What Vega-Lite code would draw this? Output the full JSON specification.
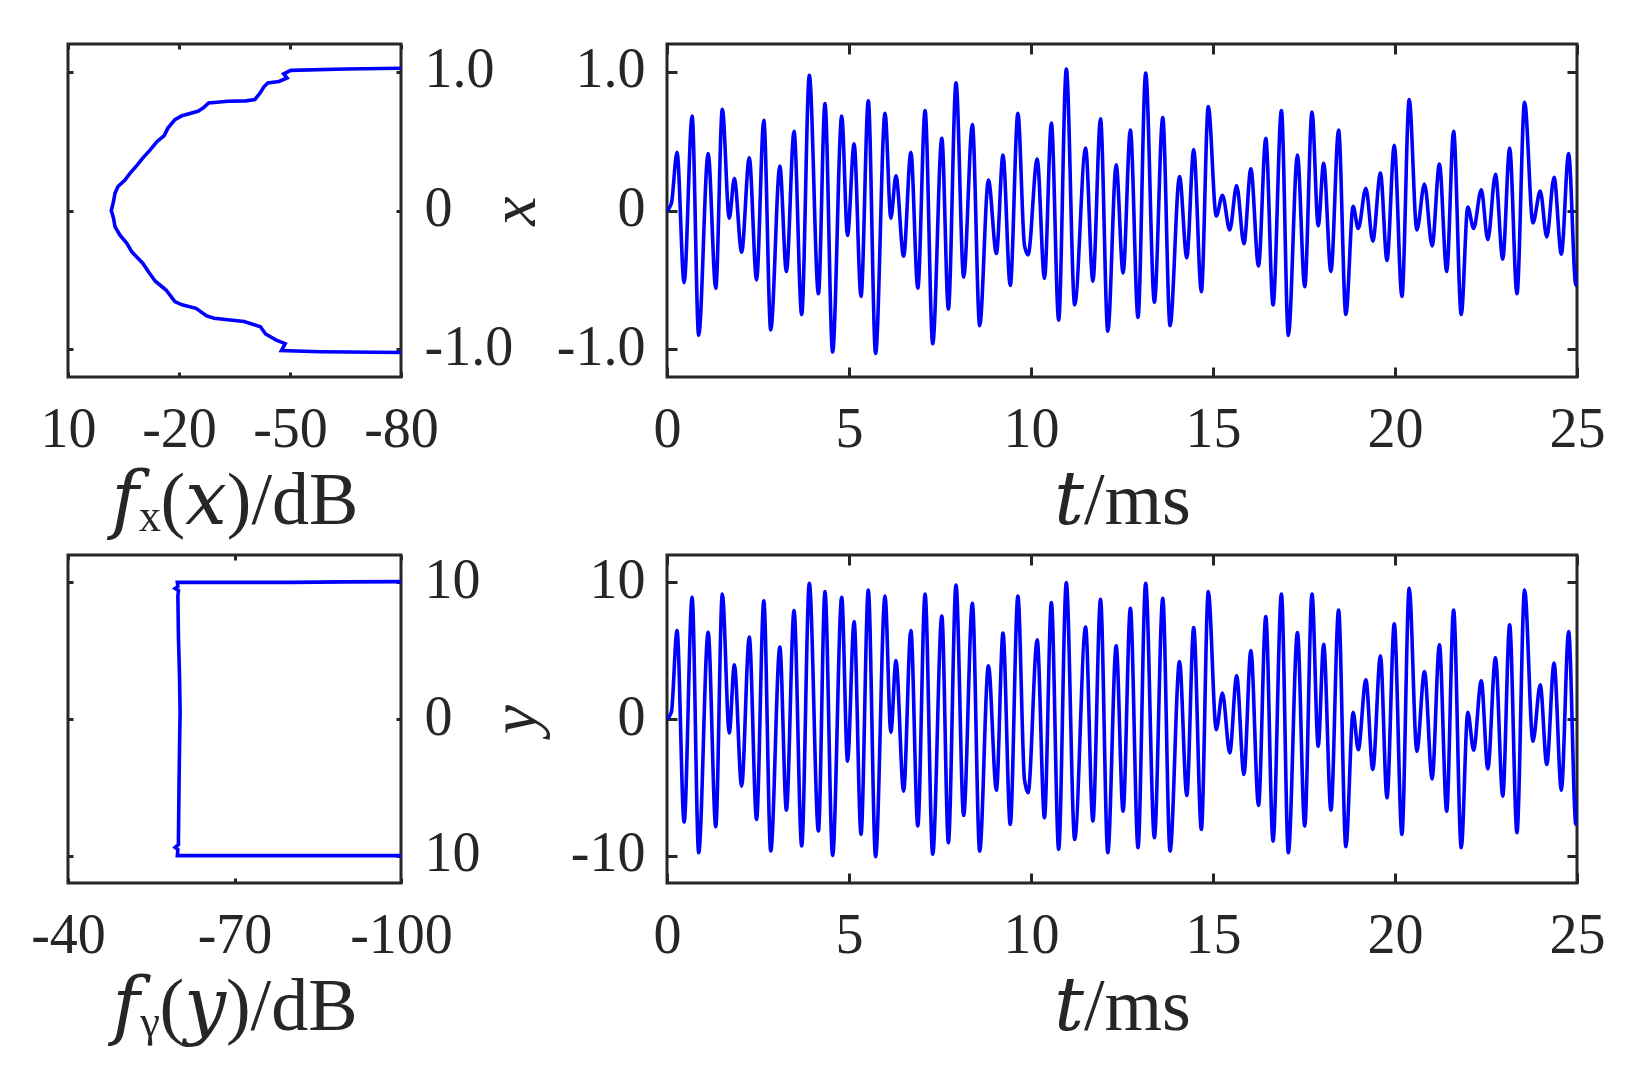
{
  "$schema": "https://vega.github.io/schema/vega-lite/v6.json",
  "background": "white",
  "padding": {"left": 29, "top": 40, "right": 5, "bottom": 5},
  "config": {
    "view": {"stroke": "#262626", "strokeWidth": 3},
    "axis": {
      "grid": false, "domain": false,
      "tickColor": "#262626", "tickWidth": 3,
      "labelColor": "#262626", "labelFont": "Liberation Serif", "labelFontSize": 56,
      "titleColor": "#262626", "titleFont": "Liberation Serif, DejaVu Serif", "titleFontSize": 74, "titleFontWeight": "normal",
      "labelFlush": false, "labelOverlap": false
    },
    "line": {"color": "#0000ff", "strokeWidth": 3.6}
  },
  "columns": 2,
  "spacing": {"row": 178, "column": 266},
  "bounds": "flush",
  "datasets": {
    "ts": [
      {"t":0,"x":0,"y":0},{"t":0.12,"x":0.05,"y":0.5},{"t":0.275,"x":0.42,"y":6.47},{"t":0.47,"x":-0.52,"y":-7.54},
      {"t":0.69,"x":0.68,"y":8.9},{"t":0.87,"x":-0.9,"y":-9.78},{"t":1.13,"x":0.41,"y":6.35},{"t":1.34,"x":-0.56,"y":-7.88},
      {"t":1.52,"x":0.73,"y":9.15},{"t":1.71,"x":-0.055,"y":-1.02},{"t":1.85,"x":0.23,"y":3.97},{"t":2.05,"x":-0.3,"y":-4.91},
      {"t":2.26,"x":0.38,"y":5.99},{"t":2.46,"x":-0.5,"y":-7.35},{"t":2.66,"x":0.65,"y":8.64},{"t":2.85,"x":-0.86,"y":-9.66},
      {"t":3.1,"x":0.32,"y":5.26},{"t":3.28,"x":-0.44,"y":-6.67},{"t":3.49,"x":0.57,"y":7.93},{"t":3.7,"x":-0.75,"y":-9.29},
      {"t":3.91,"x":0.975,"y":9.93},{"t":4.16,"x":-0.6,"y":-8.2},{"t":4.34,"x":0.77,"y":9.32},{"t":4.55,"x":-1.02,"y":-9.98},
      {"t":4.8,"x":0.68,"y":8.9},{"t":4.96,"x":-0.18,"y":-3.09},{"t":5.14,"x":0.48,"y":7.13},{"t":5.33,"x":-0.62,"y":-8.44},
      {"t":5.53,"x":0.79,"y":9.44},{"t":5.73,"x":-1.03,"y":-10.07},{"t":5.99,"x":0.7,"y":9.0},{"t":6.15,"x":-0.055,"y":-0.97},
      {"t":6.29,"x":0.25,"y":4.28},{"t":6.5,"x":-0.33,"y":-5.28},{"t":6.7,"x":0.42,"y":6.47},{"t":6.89,"x":-0.56,"y":-7.83},
      {"t":7.09,"x":0.72,"y":9.15},{"t":7.3,"x":-0.96,"y":-9.9},{"t":7.55,"x":0.52,"y":7.54},{"t":7.73,"x":-0.71,"y":-9.05},
      {"t":7.94,"x":0.92,"y":9.8},{"t":8.15,"x":-0.48,"y":-7.06},{"t":8.39,"x":0.62,"y":8.47},{"t":8.59,"x":-0.83,"y":-9.66},
      {"t":8.83,"x":0.22,"y":3.89},{"t":9.05,"x":-0.31,"y":-5.21},{"t":9.23,"x":0.4,"y":6.28},{"t":9.43,"x":-0.54,"y":-7.71},
      {"t":9.64,"x":0.7,"y":9.0},{"t":9.82,"x":-0.25,"y":-4.4},{"t":9.92,"x":-0.32,"y":-5.4},{"t":10.17,"x":0.37,"y":5.79},
      {"t":10.37,"x":-0.49,"y":-7.23},{"t":10.56,"x":0.63,"y":8.52},{"t":10.76,"x":-0.79,"y":-9.54},{"t":10.97,"x":1.02,"y":9.98},
      {"t":11.2,"x":-0.68,"y":-8.81},{"t":11.5,"x":0.45,"y":6.72},{"t":11.7,"x":-0.51,"y":-7.47},{"t":11.91,"x":0.66,"y":8.76},
      {"t":12.11,"x":-0.87,"y":-9.78},{"t":12.34,"x":0.33,"y":5.35},{"t":12.53,"x":-0.45,"y":-6.74},{"t":12.73,"x":0.58,"y":8.1},
      {"t":12.94,"x":-0.77,"y":-9.42},{"t":13.15,"x":0.99,"y":9.93},{"t":13.39,"x":-0.66,"y":-8.69},{"t":13.62,"x":0.67,"y":8.83},
      {"t":13.82,"x":-0.83,"y":-9.66},{"t":14.08,"x":0.245,"y":4.21},{"t":14.28,"x":-0.34,"y":-5.6},{"t":14.47,"x":0.44,"y":6.69},
      {"t":14.68,"x":-0.585,"y":-8.08},{"t":14.87,"x":0.75,"y":9.32},{"t":15.09,"x":-0.04,"y":-0.78},{"t":15.26,"x":0.11,"y":1.9},
      {"t":15.46,"x":-0.14,"y":-2.48},{"t":15.65,"x":0.18,"y":3.16},{"t":15.85,"x":-0.24,"y":-4.06},{"t":16.04,"x":0.3,"y":5.01},
      {"t":16.25,"x":-0.4,"y":-6.33},{"t":16.45,"x":0.52,"y":7.49},{"t":16.65,"x":-0.68,"y":-8.93},{"t":16.88,"x":0.72,"y":9.15},
      {"t":17.07,"x":-0.9,"y":-9.78},{"t":17.32,"x":0.4,"y":6.33},{"t":17.52,"x":-0.55,"y":-7.83},{"t":17.72,"x":0.71,"y":9.15},
      {"t":17.89,"x":-0.11,"y":-2.0},{"t":18.04,"x":0.34,"y":5.47},{"t":18.24,"x":-0.44,"y":-6.67},{"t":18.45,"x":0.58,"y":7.98},
      {"t":18.65,"x":-0.75,"y":-9.34},{"t":18.85,"x":0.03,"y":0.49},{"t":18.99,"x":-0.13,"y":-2.24},{"t":19.2,"x":0.16,"y":2.87},
      {"t":19.39,"x":-0.22,"y":-3.7},{"t":19.6,"x":0.27,"y":4.62},{"t":19.78,"x":-0.36,"y":-5.77},{"t":19.98,"x":0.47,"y":6.96},
      {"t":20.19,"x":-0.62,"y":-8.44},{"t":20.39,"x":0.8,"y":9.56},{"t":20.6,"x":-0.14,"y":-2.36},{"t":20.81,"x":0.19,"y":3.48},
      {"t":21.02,"x":-0.255,"y":-4.38},{"t":21.22,"x":0.335,"y":5.43},{"t":21.42,"x":-0.44,"y":-6.74},{"t":21.61,"x":0.57,"y":7.98},
      {"t":21.82,"x":-0.75,"y":-9.42},{"t":22.0,"x":0.024,"y":0.49},{"t":22.16,"x":-0.13,"y":-2.29},{"t":22.37,"x":0.15,"y":2.8},
      {"t":22.55,"x":-0.21,"y":-3.65},{"t":22.76,"x":0.26,"y":4.5},{"t":22.96,"x":-0.35,"y":-5.64},{"t":23.15,"x":0.45,"y":6.89},
      {"t":23.35,"x":-0.6,"y":-8.32},{"t":23.56,"x":0.78,"y":9.44},{"t":23.79,"x":-0.09,"y":-1.63},{"t":23.99,"x":0.14,"y":2.5},
      {"t":24.17,"x":-0.19,"y":-3.33},{"t":24.37,"x":0.24,"y":4.09},{"t":24.57,"x":-0.315,"y":-5.21},{"t":24.77,"x":0.41,"y":6.4},
      {"t":24.97,"x":-0.54,"y":-7.71},{"t":25.0,"x":-0.42,"y":-5.8}
    ],
    "fx": [
      {"i":1,"db":-80,"v":1.025},{"i":2,"db":-65,"v":1.02},{"i":3,"db":-50.2,"v":1.01},{"i":4,"db":-48.3,"v":0.985},
      {"i":5,"db":-49.2,"v":0.955},{"i":6,"db":-47.0,"v":0.93},{"i":7,"db":-44.0,"v":0.92},{"i":8,"db":-42.9,"v":0.89},
      {"i":9,"db":-42.0,"v":0.85},{"i":10,"db":-40.5,"v":0.8},{"i":11,"db":-38.1,"v":0.79},{"i":12,"db":-33.3,"v":0.787},
      {"i":13,"db":-28.0,"v":0.775},{"i":14,"db":-26.6,"v":0.74},{"i":15,"db":-25.1,"v":0.715},{"i":16,"db":-20.8,"v":0.683},
      {"i":17,"db":-18.9,"v":0.655},{"i":18,"db":-17.0,"v":0.594},{"i":19,"db":-16.0,"v":0.54},{"i":20,"db":-14.1,"v":0.498},
      {"i":21,"db":-12.1,"v":0.433},{"i":22,"db":-10.2,"v":0.378},{"i":23,"db":-8.8,"v":0.33},{"i":24,"db":-6.8,"v":0.27},
      {"i":25,"db":-5.4,"v":0.22},{"i":26,"db":-3.5,"v":0.173},{"i":27,"db":-2.7,"v":0.125},{"i":28,"db":-2.3,"v":0.065},
      {"i":29,"db":-1.7,"v":0.0},{"i":30,"db":-2.3,"v":-0.055},{"i":31,"db":-2.7,"v":-0.116},{"i":32,"db":-4.0,"v":-0.176},
      {"i":33,"db":-5.9,"v":-0.236},{"i":34,"db":-7.3,"v":-0.3},{"i":35,"db":-10.2,"v":-0.38},{"i":36,"db":-11.7,"v":-0.44},
      {"i":37,"db":-13.6,"v":-0.51},{"i":38,"db":-16.5,"v":-0.573},{"i":39,"db":-18.9,"v":-0.657},{"i":40,"db":-20.8,"v":-0.68},
      {"i":41,"db":-24.6,"v":-0.705},{"i":42,"db":-27.5,"v":-0.76},{"i":43,"db":-29.5,"v":-0.777},{"i":44,"db":-37.6,"v":-0.8},
      {"i":45,"db":-42.0,"v":-0.838},{"i":46,"db":-43.4,"v":-0.89},{"i":47,"db":-46.3,"v":-0.934},{"i":48,"db":-48.7,"v":-0.96},
      {"i":49,"db":-47.7,"v":-1.01},{"i":50,"db":-58.3,"v":-1.018},{"i":51,"db":-80,"v":-1.023}
    ],
    "fy": [
      {"i":1,"db":-100,"v":10.05},{"i":2,"db":-90,"v":10.03},{"i":3,"db":-80,"v":10.0},{"i":4,"db":-59.7,"v":10.0},
      {"i":5,"db":-59.8,"v":9.7},{"i":6,"db":-59.3,"v":9.55},{"i":7,"db":-59.9,"v":9.4},{"i":8,"db":-59.8,"v":9.0},
      {"i":9,"db":-59.9,"v":6.0},{"i":10,"db":-60.1,"v":3.0},{"i":11,"db":-60.2,"v":0.5},{"i":12,"db":-60.1,"v":-2.0},
      {"i":13,"db":-60.0,"v":-5.0},{"i":14,"db":-59.9,"v":-8.8},{"i":15,"db":-59.9,"v":-9.2},{"i":16,"db":-59.3,"v":-9.4},
      {"i":17,"db":-59.8,"v":-9.55},{"i":18,"db":-59.7,"v":-10.0},{"i":19,"db":-80,"v":-10.0},{"i":20,"db":-100,"v":-10.0}
    ]
  },
  "concat": [
    {
      "width": 333, "height": 333,
      "data": {"name": "fx"},
      "layer": [
        {"mark": {"type": "line", "clip": true},
         "encoding": {
           "x": {"field": "db", "type": "quantitative", "scale": {"domain": [10, -80], "nice": false, "zero": false},
                 "axis": {"orient": "bottom", "values": [10, -20, -50, -80], "tickSize": -5, "labelPadding": 30, "labelExpr": "'' + datum.value", "title": "𝑓ₓ(𝑥)/dB", "titlePadding": 8}},
           "y": {"field": "v", "type": "quantitative", "scale": {"domain": [-1.2, 1.2], "nice": false, "zero": false},
                 "axis": {"orient": "right", "values": [-1, 0, 1], "tickSize": -5, "labelPadding": 28, "labelOffset": -2, "labelExpr": "datum.value == 0 ? '0' : (datum.value > 0 ? '' : '-') + format(abs(datum.value), '.1f')", "title": null}},
           "order": {"field": "i", "type": "quantitative"}
         }},
        {"mark": {"type": "line", "opacity": 0},
         "encoding": {
           "x": {"field": "db", "type": "quantitative", "scale": {"domain": [10, -80], "nice": false, "zero": false},
                 "axis": {"orient": "top", "values": [10, -20, -50, -80], "tickSize": -5, "labels": false, "title": null}},
           "y": {"field": "v", "type": "quantitative", "scale": {"domain": [-1.2, 1.2], "nice": false, "zero": false},
                 "axis": {"orient": "left", "values": [-1, 0, 1], "tickSize": -5, "labels": false, "title": null}},
           "order": {"field": "i", "type": "quantitative"}
         }}
      ],
      "resolve": {"axis": {"x": "independent", "y": "independent"}}
    },
    {
      "width": 910, "height": 333,
      "data": {"name": "ts"},
      "layer": [
        {"mark": {"type": "line", "clip": true, "interpolate": "monotone"},
         "encoding": {
           "x": {"field": "t", "type": "quantitative", "scale": {"domain": [0, 25], "nice": false, "zero": false},
                 "axis": {"orient": "bottom", "values": [0, 5, 10, 15, 20, 25], "tickSize": -10, "labelPadding": 35, "title": "𝑡/ms", "titlePadding": 8}},
           "y": {"field": "x", "type": "quantitative", "scale": {"domain": [-1.2, 1.2], "nice": false, "zero": false},
                 "axis": {"orient": "left", "values": [-1, 0, 1], "tickSize": -10, "labelPadding": 32, "labelOffset": -2, "labelExpr": "datum.value == 0 ? '0' : (datum.value > 0 ? '' : '-') + format(abs(datum.value), '.1f')", "title": "x", "titleFont": "Liberation Serif", "titleFontStyle": "italic", "titleFontSize": 66, "titlePadding": 8}}
         }},
        {"mark": {"type": "line", "opacity": 0},
         "encoding": {
           "x": {"field": "t", "type": "quantitative", "scale": {"domain": [0, 25], "nice": false, "zero": false},
                 "axis": {"orient": "top", "values": [0, 5, 10, 15, 20, 25], "tickSize": -10, "labels": false, "title": null}},
           "y": {"field": "x", "type": "quantitative", "scale": {"domain": [-1.2, 1.2], "nice": false, "zero": false},
                 "axis": {"orient": "right", "values": [-1, 0, 1], "tickSize": -10, "labels": false, "title": null}}
         }}
      ],
      "resolve": {"axis": {"x": "independent", "y": "independent"}}
    },
    {
      "width": 333, "height": 328,
      "data": {"name": "fy"},
      "layer": [
        {"mark": {"type": "line", "clip": true},
         "encoding": {
           "x": {"field": "db", "type": "quantitative", "scale": {"domain": [-40, -100], "nice": false, "zero": false},
                 "axis": {"orient": "bottom", "values": [-40, -70, -100], "tickSize": -5, "labelPadding": 30, "labelExpr": "'' + datum.value", "title": "𝑓ᵧ(𝑦)/dB", "titlePadding": 8}},
           "y": {"field": "v", "type": "quantitative", "scale": {"domain": [-12, 12], "nice": false, "zero": false},
                 "axis": {"orient": "right", "values": [-10, 0, 10], "tickSize": -5, "labelPadding": 28, "labelOffset": -2, "labelExpr": "'' + abs(datum.value)", "title": null}},
           "order": {"field": "i", "type": "quantitative"}
         }},
        {"mark": {"type": "line", "opacity": 0},
         "encoding": {
           "x": {"field": "db", "type": "quantitative", "scale": {"domain": [-40, -100], "nice": false, "zero": false},
                 "axis": {"orient": "top", "values": [-40, -70, -100], "tickSize": -5, "labels": false, "title": null}},
           "y": {"field": "v", "type": "quantitative", "scale": {"domain": [-12, 12], "nice": false, "zero": false},
                 "axis": {"orient": "left", "values": [-10, 0, 10], "tickSize": -5, "labels": false, "title": null}},
           "order": {"field": "i", "type": "quantitative"}
         }}
      ],
      "resolve": {"axis": {"x": "independent", "y": "independent"}}
    },
    {
      "width": 910, "height": 328,
      "data": {"name": "ts"},
      "layer": [
        {"mark": {"type": "line", "clip": true, "interpolate": "monotone"},
         "encoding": {
           "x": {"field": "t", "type": "quantitative", "scale": {"domain": [0, 25], "nice": false, "zero": false},
                 "axis": {"orient": "bottom", "values": [0, 5, 10, 15, 20, 25], "tickSize": -10, "labelPadding": 35, "title": "𝑡/ms", "titlePadding": 8}},
           "y": {"field": "y", "type": "quantitative", "scale": {"domain": [-12, 12], "nice": false, "zero": false},
                 "axis": {"orient": "left", "values": [-10, 0, 10], "tickSize": -10, "labelPadding": 32, "labelOffset": -2, "labelExpr": "'' + datum.value", "title": "y", "titleFont": "Liberation Serif", "titleFontStyle": "italic", "titleFontSize": 66, "titlePadding": 21}}
         }},
        {"mark": {"type": "line", "opacity": 0},
         "encoding": {
           "x": {"field": "t", "type": "quantitative", "scale": {"domain": [0, 25], "nice": false, "zero": false},
                 "axis": {"orient": "top", "values": [0, 5, 10, 15, 20, 25], "tickSize": -10, "labels": false, "title": null}},
           "y": {"field": "y", "type": "quantitative", "scale": {"domain": [-12, 12], "nice": false, "zero": false},
                 "axis": {"orient": "right", "values": [-10, 0, 10], "tickSize": -10, "labels": false, "title": null}}
         }}
      ],
      "resolve": {"axis": {"x": "independent", "y": "independent"}}
    }
  ]
}
